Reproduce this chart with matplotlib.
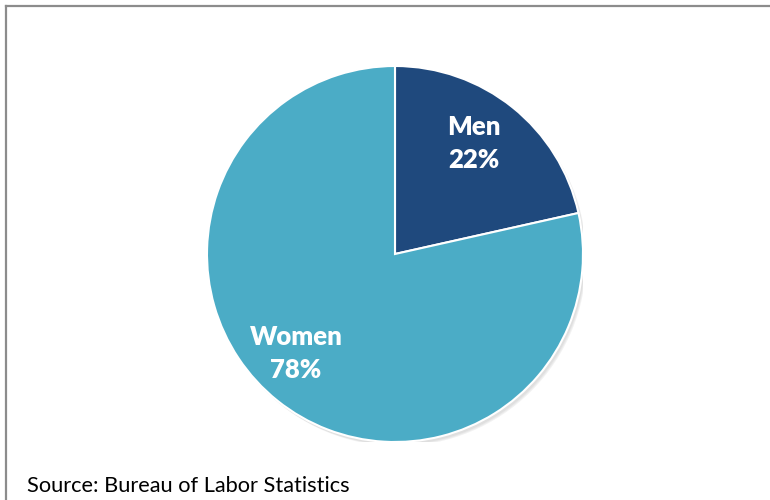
import matplotlib.pyplot as plt
from matplotlib.patches import Circle
from matplotlib.lines import Line2D

labels = ['Men', 'Women']
shares = [21.5, 78.5]   # slice sizes as drawn; labels show rounded percents
colors = ['#1F497D', '#4BACC6']
label_pos = [(0.42, 0.59), (-0.527, -0.527)]
source = 'Source: Bureau of Labor Statistics'

plt.rcParams['font.family'] = ['Lato', 'DejaVu Sans']

fig = plt.figure(figsize=(7.7, 5), dpi=100)

# outer frame (only top and left edges are visible in the crop)
fig.add_artist(Line2D([6.5/770, 6.5/770], [0, 1 - 5.5/500], color='#8C8C8C', lw=1.6))
fig.add_artist(Line2D([6.5/770, 1], [1 - 5.5/500, 1 - 5.5/500], color='#8C8C8C', lw=1.6))

cx, cy, r = 395, 254, 188
ax = fig.add_axes([(cx - r) / 770, (500 - cy - r) / 500, 2 * r / 770, 2 * r / 500])

# soft shadow
for i, a in enumerate([0.04, 0.04, 0.05]):
    ax.add_patch(Circle((0.01 + i * 0.004, -0.014 - i * 0.004), 1.0, color='black',
                        alpha=a, lw=0, zorder=0))

wedges, texts, autotexts = ax.pie(
    shares, colors=colors, startangle=90, counterclock=False,
    autopct=lambda p: '', pctdistance=0.74,
    wedgeprops=dict(edgecolor='white', linewidth=1.5))

for t, lab, val, pos in zip(autotexts, labels, shares, label_pos):
    t.set_text(f'{lab}\n{val:.0f}%')
    t.set_position(pos)
    t.set_color('white')
    t.set_fontsize(18.5)
    t.set_fontweight('heavy')
    t.set_linespacing(1.45)
    t.set_ha('center')
    t.set_va('center')

ax.set_xlim(-1, 1)
ax.set_ylim(-1, 1)
ax.set_aspect('equal')
ax.axis('off')

fig.text(27/770, 1 - 486/500, source, fontsize=15.7, color='black', va='center', ha='left')

fig.savefig('out.png', dpi=100)
